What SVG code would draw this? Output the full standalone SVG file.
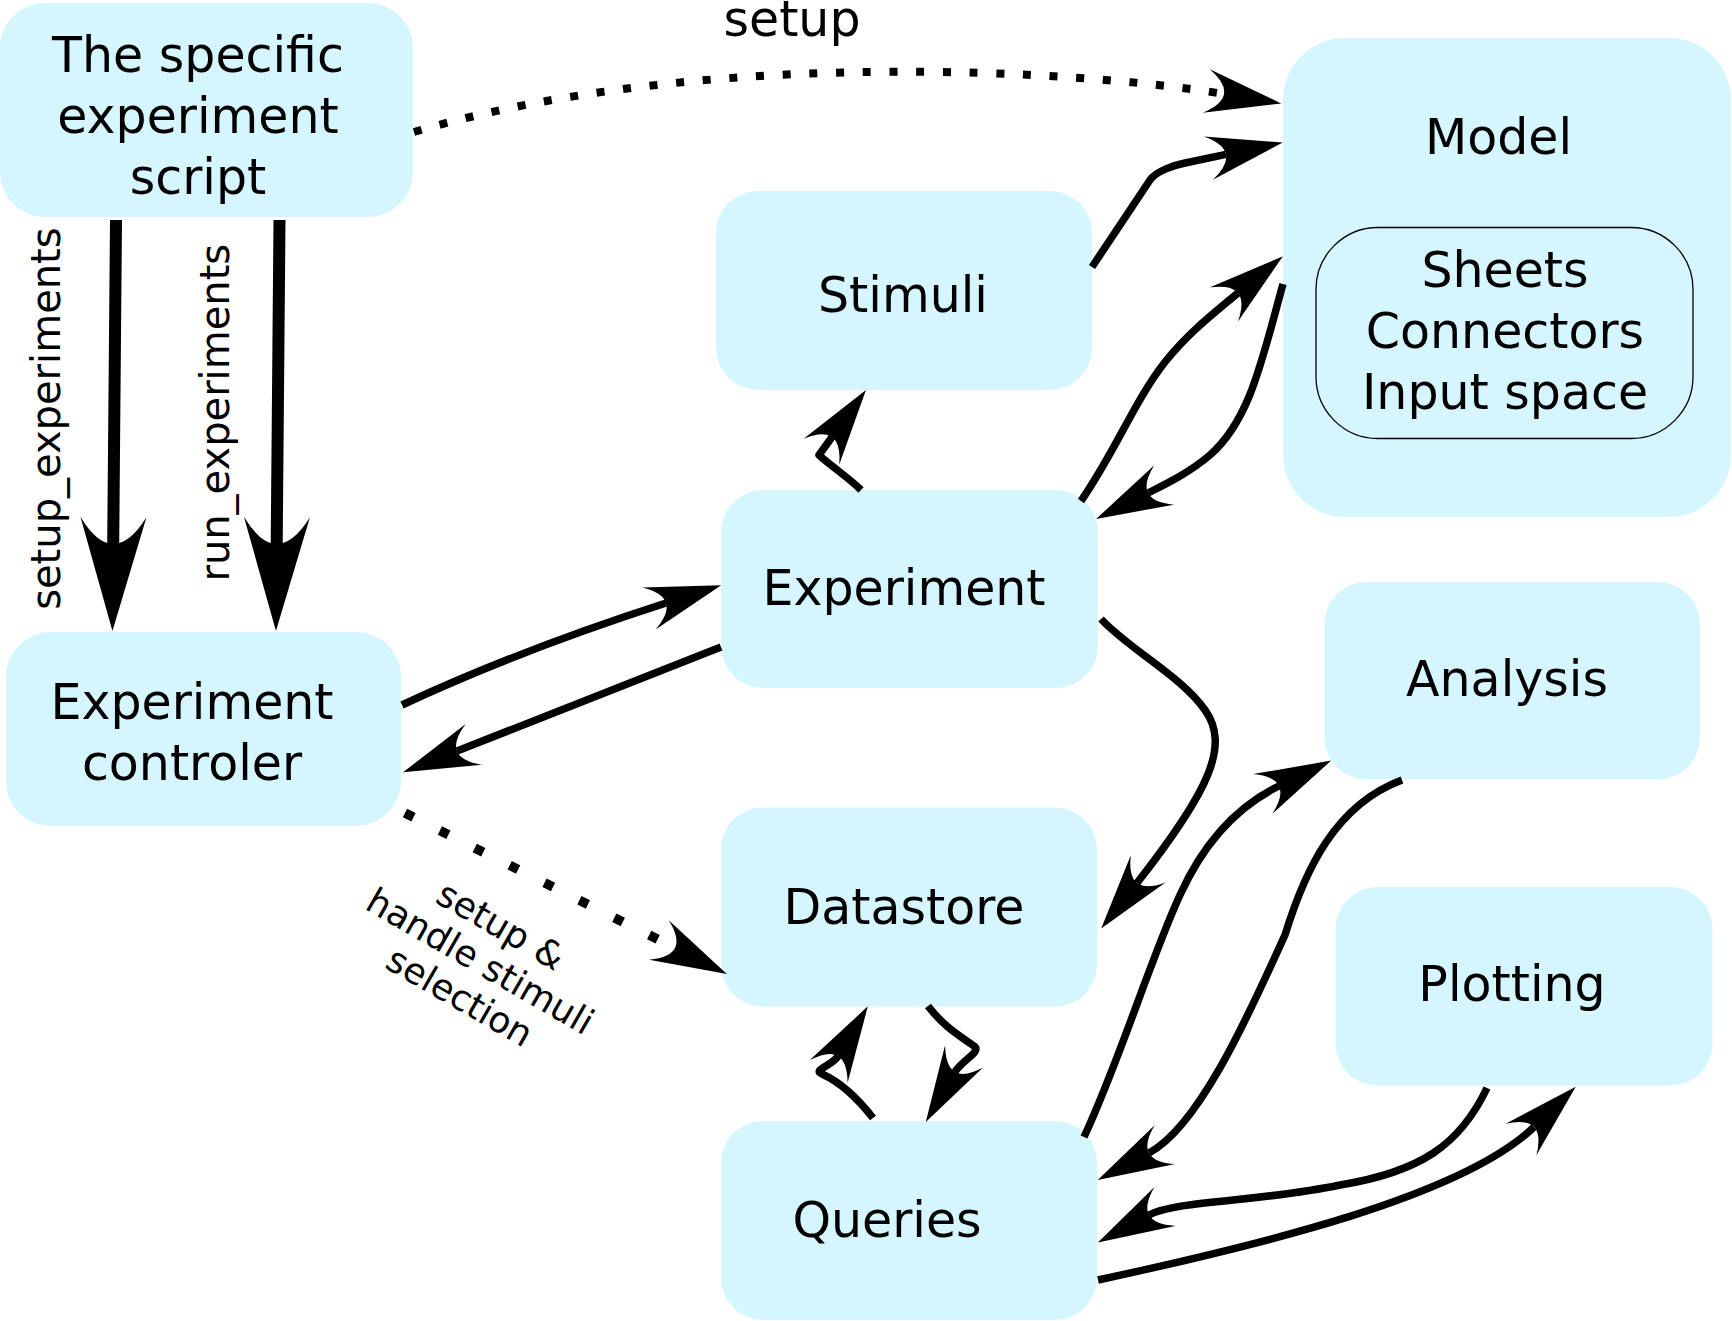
<svg xmlns="http://www.w3.org/2000/svg" width="1732" height="1321" viewBox="0 0 1732 1321">
<style>
.box{fill:#d5f5ff;stroke:none}
.inner{fill:#d5f5ff;stroke:#000;stroke-width:1.3}
.t{font-family:"DejaVu Sans","Liberation Sans",sans-serif;font-size:49px;fill:#000;text-anchor:middle}
.lbl{font-family:"DejaVu Sans","Liberation Sans",sans-serif;font-size:40px;fill:#000;text-anchor:middle}
.lbs{font-family:"DejaVu Sans","Liberation Sans",sans-serif;font-size:36px;fill:#000;text-anchor:middle}
.c{fill:none;stroke:#000;stroke-width:7.5;stroke-linejoin:round;marker-end:url(#ah)}
.big{fill:none;stroke:#000;stroke-width:12;marker-end:url(#ahb)}
.dot1{fill:none;stroke:#000;stroke-width:8;stroke-dasharray:8 18.7;marker-end:url(#ah)}
.dot2{fill:none;stroke:#000;stroke-width:9.5;stroke-dasharray:9.5 29.5;marker-end:url(#ah)}
</style>
<defs>
<marker id="ah" markerUnits="userSpaceOnUse" orient="auto" overflow="visible" markerWidth="1" markerHeight="1" refX="0" refY="0">
<path d="M58,0 L-18,-22 Q18,0 -18,22 Z" fill="#000"/>
</marker>
<marker id="ahb" markerUnits="userSpaceOnUse" orient="auto" overflow="visible" markerWidth="1" markerHeight="1" refX="0" refY="0">
<path d="M87,0 L-27,-33 Q27,0 -27,33 Z" fill="#000"/>
</marker>
</defs>
<rect width="1732" height="1321" fill="#fff"/>

<g id="script">
<rect class="box" x="0" y="3" width="413" height="214" rx="45" ry="45"/>
<text class="t" x="198" y="71.5">The specific</text>
<text class="t" x="198" y="132.5">experiment</text>
<text class="t" x="198" y="193.5">script</text>
</g>
<g id="controller">
<rect class="box" x="6" y="632" width="395" height="194" rx="45" ry="45"/>
<text class="t" x="192" y="719">Experiment</text>
<text class="t" x="192" y="779.5">controler</text>
</g>
<g id="stimuli">
<rect class="box" x="716" y="191" width="376" height="199" rx="42" ry="42"/>
<text class="t" x="903" y="311.5">Stimuli</text>
</g>
<g id="experiment">
<rect class="box" x="721" y="490" width="377" height="198" rx="42" ry="42"/>
<text class="t" x="904" y="605">Experiment</text>
</g>
<g id="datastore">
<rect class="box" x="721" y="807.5" width="376" height="199" rx="42" ry="42"/>
<text class="t" x="904" y="924">Datastore</text>
</g>
<g id="queries">
<rect class="box" x="721" y="1121" width="376" height="199" rx="42" ry="42"/>
<text class="t" x="887" y="1237">Queries</text>
</g>
<g id="model">
<rect class="box" x="1283" y="38" width="448" height="479" rx="62" ry="62"/>
<text class="t" x="1498.5" y="154">Model</text>
<rect class="inner" x="1316" y="227.5" width="377" height="211" rx="62" ry="62"/>
<text class="t" x="1505" y="287">Sheets</text>
<text class="t" x="1505" y="348">Connectors</text>
<text class="t" x="1505" y="408.5">Input space</text>
</g>
<g id="analysis">
<rect class="box" x="1324.5" y="582" width="375.5" height="197.5" rx="42" ry="42"/>
<text class="t" x="1507" y="696">Analysis</text>
</g>
<g id="plotting">
<rect class="box" x="1335.5" y="887" width="377" height="198.5" rx="42" ry="42"/>
<text class="t" x="1512" y="1001">Plotting</text>
</g>

<g id="connectors">
<path class="big" d="M116,220 L113.2,544"/>
<path class="big" d="M279.5,220 L276.7,544"/>
<path class="dot1" d="M414,132 C702,47 1076,69.5 1224,94"/>
<path class="c" d="M1092,267 L1150,180 C1156,171 1175,165 1185,163 L1226,154.4"/>
<path class="c" d="M1081,501 C1115,452 1135,400 1165,362 C1185,337 1205,320 1238,293"/>
<path class="c" d="M1283,284 C1262,360 1250,420 1210,455 C1190,472 1170,482 1148,493"/>
<path class="c" d="M861,490 C848,477 832,467 819,455 L832,437"/>
<path class="c" d="M402,705 Q520,650 666,603"/>
<path class="c" d="M721,647 L457,751"/>
<path class="dot2" d="M405,813 L675,948"/>
<path class="c" d="M1101,619 C1130,650 1180,675 1205,710 C1230,745 1210,790 1137,883"/>
<path class="c" d="M873,1118 C855,1095 840,1082 822,1074 C812,1070 832,1066 838,1056"/>
<path class="c" d="M928,1006 C945,1028 960,1036 974,1046 C982,1052 962,1060 955,1072"/>
<path class="c" d="M1084,1137 C1120,1060 1150,960 1180,895 C1205,840 1240,805 1279,786"/>
<path class="c" d="M1402,780 C1335,805 1305,870 1285,935 C1255,1000 1202,1125 1149,1153"/>
<path class="c" d="M1487,1088 C1460,1145 1420,1172 1340,1185 C1260,1202 1177,1200 1149,1215"/>
<path class="c" d="M1098,1280 C1260,1245 1462,1196.5 1534,1127"/>
</g>

<g id="labels">
<text class="t" x="792" y="36">setup</text>
<text class="lbl" transform="translate(60,418.6) rotate(-90)">setup_experiments</text>
<text class="lbl" transform="translate(229,412.7) rotate(-90)">run_experiments</text>
<text class="lbs" transform="translate(474,972) rotate(30)"><tspan x="0" y="-41">setup &amp;</tspan><tspan x="0" y="0">handle stimuli</tspan><tspan x="0" y="41">selection</tspan></text>
</g>
</svg>
